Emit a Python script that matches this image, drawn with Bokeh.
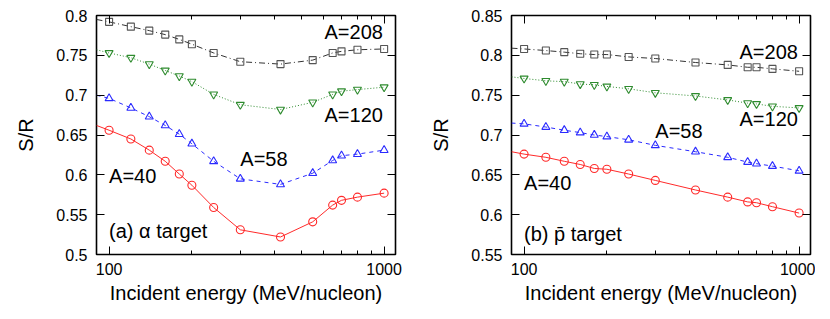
from bokeh.plotting import figure
from bokeh.layouts import row
from bokeh.models import (Range1d, FixedTicker, LinearAxis, LogAxis, Label,
                          CustomJSTickFormatter, PrintfTickFormatter)
from bokeh.embed import file_html
from bokeh.resources import INLINE

# ---------------- data ----------------
energy = [100, 120, 140, 160, 180, 200, 240, 300, 420, 550, 650, 700, 800, 1000]
edge_energy = 90  # curves start at the left frame edge

# (a) alpha target
alpha_edge = {"208": 0.795, "120": 0.757, "58": 0.700, "40": 0.662}
alpha_208 = [0.792, 0.786, 0.781, 0.776, 0.770, 0.764, 0.753, 0.742, 0.739, 0.744, 0.753, 0.755, 0.757, 0.758]
alpha_120 = [0.753, 0.747, 0.739, 0.731, 0.724, 0.717, 0.701, 0.688, 0.682, 0.691, 0.701, 0.705, 0.707, 0.710]
alpha_58 = [0.696, 0.684, 0.673, 0.662, 0.651, 0.639, 0.617, 0.595, 0.588, 0.602, 0.618, 0.624, 0.626, 0.631]
alpha_40 = [0.656, 0.645, 0.631, 0.617, 0.601, 0.587, 0.559, 0.531, 0.522, 0.541, 0.562, 0.568, 0.572, 0.577]

# (b) pbar target
pbar_edge = {"208": 0.809, "120": 0.773, "58": 0.715, "40": 0.679}
pbar_208 = [0.808, 0.806, 0.804, 0.802, 0.801, 0.801, 0.798, 0.796, 0.791, 0.788, 0.785, 0.785, 0.783, 0.780]
pbar_120 = [0.771, 0.768, 0.767, 0.764, 0.763, 0.761, 0.758, 0.753, 0.749, 0.744, 0.740, 0.739, 0.736, 0.734]
pbar_58 = [0.714, 0.710, 0.706, 0.703, 0.700, 0.698, 0.694, 0.687, 0.679, 0.672, 0.666, 0.664, 0.661, 0.655]
pbar_40 = [0.676, 0.672, 0.667, 0.663, 0.658, 0.657, 0.651, 0.643, 0.631, 0.622, 0.616, 0.615, 0.610, 0.602]

x_major = [100, 1000]
x_minor = [200, 300, 400, 500, 600, 700, 800, 900]
yticks_a = [0.5, 0.55, 0.6, 0.65, 0.7, 0.75, 0.8]
yticks_b = [0.55, 0.6, 0.65, 0.7, 0.75, 0.8, 0.85]

FONT = "Liberation Sans"

STYLES = {
    "208": dict(line_color="#333333", dash="6 3 1 3", marker="square", mcolor="#555555", size=7),
    "120": dict(line_color="#2e8b2e", dash="1 2", marker="inverted_triangle", mcolor="#2e8b2e", size=8),
    "58": dict(line_color="#2a2aff", dash="4 4", marker="triangle", mcolor="#2a2aff", size=8),
    "40": dict(line_color="#ff2a2a", dash="solid", marker="circle", mcolor="#ff2a2a", size=8),
}

yfmt_code = "return String(Math.round(tick*100)/100);"


def make_panel(series, edge, yticks, labels, width, right_border):
    p = figure(width=width, height=310, x_axis_type="log",
               x_range=Range1d(90, 1100), y_range=Range1d(yticks[0], yticks[-1]),
               output_backend="svg", toolbar_location=None,
               min_border_left=96, min_border_right=right_border,
               min_border_top=15, min_border_bottom=56)
    p.xgrid.visible = False
    p.ygrid.visible = False
    p.background_fill_color = "white"
    p.border_fill_color = "white"
    p.outline_line_color = "black"
    p.outline_line_width = 1.6

    # extra axes (ticks only)
    p.add_layout(LogAxis(), "above")
    p.add_layout(LinearAxis(), "right")

    for ax in p.xaxis:
        ax.ticker = FixedTicker(ticks=x_major, minor_ticks=x_minor)
    for ax in p.yaxis:
        ax.ticker = FixedTicker(ticks=yticks)
    for ax in p.axis:
        ax.axis_line_color = None
        ax.major_tick_in = 8
        ax.major_tick_out = 0
        ax.minor_tick_in = 4
        ax.minor_tick_out = 0
        ax.major_tick_line_color = "black"
        ax.minor_tick_line_color = "black"
        ax.major_label_text_font = FONT
        ax.major_label_text_font_size = "16px"
        ax.major_label_text_color = "black"
        ax.axis_label_text_font = FONT
        ax.axis_label_text_font_size = "20px"
        ax.axis_label_text_font_style = "normal"
        ax.axis_label_text_color = "black"
    for ax in p.yaxis:
        ax.minor_tick_line_color = None

    bottom = p.below[0]
    bottom.formatter = PrintfTickFormatter(format="%d")
    bottom.major_label_standoff = 8
    bottom.axis_label = "Incident energy (MeV/nucleon)"
    bottom.axis_label_standoff = 4

    left = p.left[0]
    left.formatter = CustomJSTickFormatter(code=yfmt_code)
    left.major_label_standoff = 9
    left.axis_label = "S/R"
    left.axis_label_standoff = 16

    blank = CustomJSTickFormatter(code="return '';")
    p.above[0].formatter = blank
    p.above[0].major_label_standoff = 0
    p.right[0].formatter = blank
    p.right[0].major_label_standoff = 0

    for key, vals in series.items():
        st = STYLES[key]
        p.line([edge_energy] + energy, [edge[key]] + vals, line_color=st["line_color"],
               line_width=1, line_dash=st["dash"])
        p.scatter(energy, vals, marker=st["marker"], size=st["size"],
                  line_color=st["mcolor"], fill_color=None, line_width=1.1)

    for text, x, y, align in labels:
        p.add_layout(Label(x=x, y=y, text=text, text_align=align, text_baseline="middle",
                           text_font=FONT, text_font_size="20px", text_color="black"))
    return p


p1 = make_panel({"208": alpha_208, "120": alpha_120, "58": alpha_58, "40": alpha_40},
                alpha_edge, yticks_a,
                [("A=208", 990, 0.779, "right"), ("A=120", 990, 0.675, "right"),
                 ("A=58", 300, 0.620, "left"), ("A=40", 100, 0.599, "left"),
                 ("(a) \u03b1 target", 100, 0.529, "left")],
                width=415, right_border=20)
p2 = make_panel({"208": pbar_208, "120": pbar_120, "58": pbar_58, "40": pbar_40},
                pbar_edge, yticks_b,
                [("A=208", 990, 0.804, "right"), ("A=120", 990, 0.720, "right"),
                 ("A=58", 300, 0.705, "left"), ("A=40", 100, 0.6395, "left"),
                 ("(b) p\u0304 target", 100, 0.576, "left")],
                width=400, right_border=5)

layout = row(p1, p2)
open("out.html", "w").write(file_html(layout, INLINE))
